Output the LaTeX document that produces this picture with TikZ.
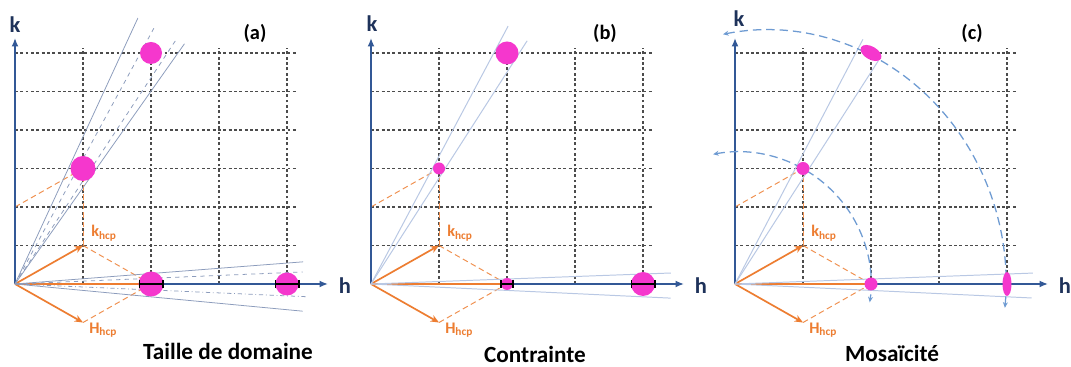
\documentclass[tikz,border=0pt]{standalone}
\usepackage{fontspec}
\setmainfont{Carlito}
\usepackage{xcolor}
\usetikzlibrary{arrows.meta,positioning,calc}

\definecolor{axisblue}{RGB}{50,88,150}
\definecolor{labelnavy}{RGB}{30,50,90}
\definecolor{hcporange}{RGB}{237,125,49}
\definecolor{spotpink}{RGB}{245,55,205}
\definecolor{fanslate}{RGB}{140,156,188}
\definecolor{fanlight}{RGB}{185,200,228}
\definecolor{arcblue}{RGB}{110,155,210}

\begin{document}
\begin{tikzpicture}[x=0.025cm, y=0.025cm,
gridline/.style={black!70, line width=0.8pt, dash pattern=on 2pt off 1.8pt},
axisline/.style={axisblue, line width=1.4pt, -{Latex[length=6pt,width=5pt]}},
hcpvec/.style={hcporange, line width=1.2pt, -{Stealth[length=6pt,width=5pt]}},
hcpdash/.style={hcporange!85, line width=0.7pt, dash pattern=on 4pt off 2.5pt},
fanline/.style={fanslate, line width=0.55pt},
lightline/.style={fanlight, line width=0.7pt},
spot/.style={fill=spotpink, draw=none},
errbar/.style={line width=1.8pt, {Bar[width=6pt,line width=1.2pt]}-{Bar[width=6pt,line width=1.2pt]}},
arcline/.style={arcblue, line width=0.9pt, dash pattern=on 6pt off 3.5pt, {Stealth[length=4pt,width=3.5pt]}-{Stealth[length=4pt,width=3.5pt]}},
axlabel/.style={text=labelnavy, font=\bfseries\fontsize{16}{16}\selectfont, inner sep=0pt},
veclabel/.style={text=hcporange, font=\bfseries\fontsize{11.5}{12}\selectfont, inner sep=0pt, anchor=west},
tag/.style={font=\bfseries\fontsize{14.5}{15}\selectfont, inner sep=0pt},
caption/.style={font=\bfseries\fontsize{16.5}{18}\selectfont, inner sep=0pt}
]
\fill[white] (0,0) rectangle (1071,367);
\useasboundingbox (0,0) rectangle (1071,367);

% grid, axes and hcp vectors, same in the three panels
\foreach \p/\ox/\kx/\ky in {a/15/0/259, b/371/1/260, c/735/4/265}{
\begin{scope}[shift={(\ox,83)}]
\coordinate (O\p) at (0,0);
\coordinate (K\p) at (68,38.5);
\coordinate (H\p) at (68,-38.5);
\coordinate (G\p) at (136,0);
\coordinate (P\p) at (68,115.5);
\coordinate (Q\p) at (0,77);
\foreach \j in {1,...,6} \draw[gridline] (0,38.5*\j) -- (282,38.5*\j);
\foreach \i in {1,...,4} \draw[gridline] (68*\i,0) -- (68*\i,236);
\draw[hcpdash] (Q\p) -- (P\p);
\draw[hcpdash] (K\p) -- (P\p);
\draw[hcpdash] (K\p) -- (G\p);
\draw[hcpdash] (H\p) -- (G\p);
\draw[axisline] (O\p) -- (0,246);
\draw[axisline] (O\p) -- (313,0);
\draw[hcporange, line width=1pt] (O\p) -- (G\p);
\draw[hcpvec] (O\p) -- (K\p);
\draw[hcpvec] (O\p) -- (H\p);
\node[axlabel] (k\p) at (\kx,\ky) {k};
\node[axlabel] (h\p) at (330,-2) {h};
\node[veclabel] (kv\p) at (76,51) {k\textsubscript{hcp}};
\node[veclabel] (hv\p) at (74,-46) {H\textsubscript{hcp}};
\end{scope}}

% (a) domain size
\begin{scope}[shift={(15,83)}]
\draw[fanline] (Oa) -- ++(65.2:293);
\draw[fanline, dashed] (Oa) -- ++(61.5:291);
\draw[fanline, dashed] (Oa) -- ++(56.6:294);
\draw[fanline] (Oa) -- ++(54.8:294);
\draw[fanline] (Oa) -- ++(4.4:289);
\draw[fanline, dashed] (Oa) -- ++(2.4:288);
\draw[fanline, dash dot] (Oa) -- ++(-2.5:292);
\draw[fanline] (Oa) -- ++(-5.4:289);
\fill[spot] (136,231) circle[radius=11];
\fill[spot] (68,115.5) circle[radius=12.5];
\fill[spot] (136,0) circle[radius=12.5];
\fill[spot] (272,0) circle[radius=11.5];
\draw[errbar] (123.5,0) -- (148.5,0);
\draw[errbar] (259.5,0) -- (284.5,0);
\end{scope}

% (b) strain
\begin{scope}[shift={(371,83)}]
\draw[lightline] (Ob) -- ++(62.0:292);
\draw[lightline] (Ob) -- ++(57.3:289);
\draw[lightline] (Ob) -- ++(2.1:300);
\draw[lightline] (Ob) -- ++(-2.7:300);
\fill[spot] (136,231) circle[radius=11.5];
\fill[spot] (68,115.5) circle[radius=6];
\fill[spot] (136,0) circle[radius=6];
\fill[spot] (272,0) circle[radius=12];
\draw[errbar] (129,0) -- (143,0);
\draw[errbar] (259.5,0) -- (284.5,0);
\end{scope}

% (c) mosaicity
\begin{scope}[shift={(735,83)}]
\draw[lightline] (Oc) -- ++(62.4:276);
\draw[lightline] (Oc) -- ++(57.3:265);
\draw[lightline] (Oc) -- ++(2.1:298);
\draw[lightline] (Oc) -- ++(-2.7:297);
\draw[arcline] (-12,249.7) arc[start angle=100.6, end angle=-5.4, x radius=239, y radius=254];
\draw[arcline] (-21.9,129.7) arc[start angle=100.8, end angle=-8, x radius=133, y radius=132];
\fill[spot, rotate around={-30:(136,231)}] (136,231) ellipse[x radius=11.5, y radius=6.5];
\fill[spot] (68,115.5) circle[radius=6.5];
\fill[spot] (136,0) circle[radius=6.5];
\fill[spot] (272,0) ellipse[x radius=4.5, y radius=12];
\end{scope}

\node[tag] (taga) at (255,334) {(a)};
\node[tag] (tagb) at (605,334) {(b)};
\node[tag] (tagc) at (972,334) {(c)};
\node[caption] (capa) at (228,16) {Taille de domaine};
\node[caption] (capb) at (535,13) {Contrainte};
\node[caption] (capc) at (892,14) {Mosaïcité};
\end{tikzpicture}
\end{document}
